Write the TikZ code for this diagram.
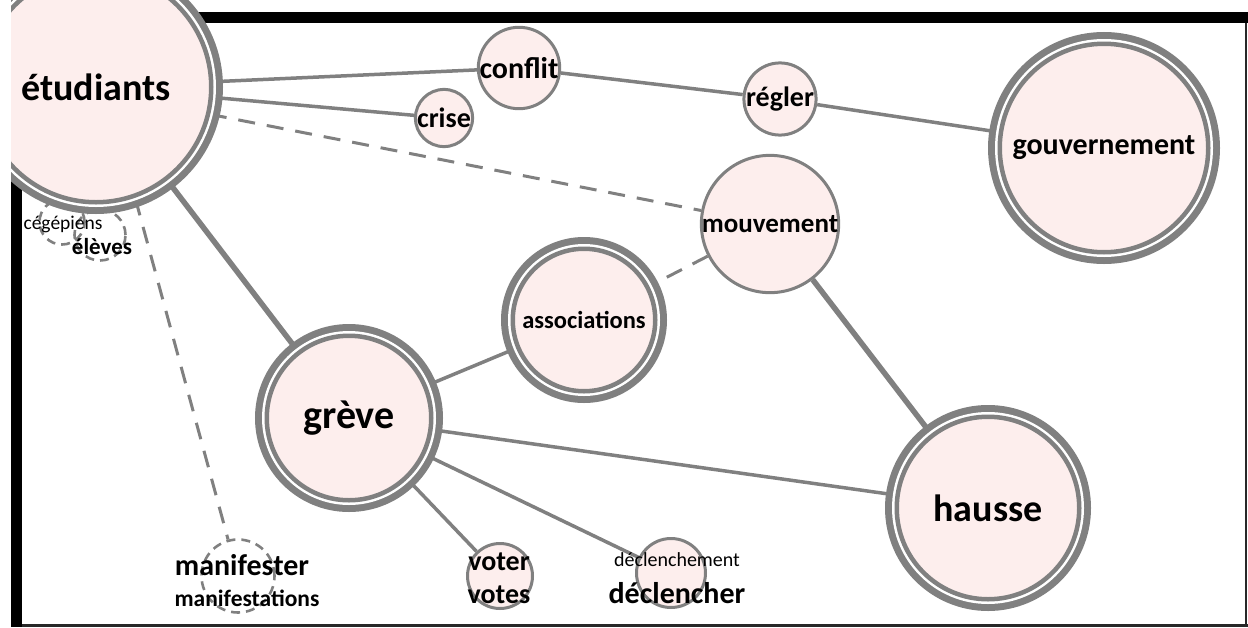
\documentclass[tikz,border=0pt]{standalone}
\usepackage{fontspec}
\setmainfont{Carlito}
\definecolor{ringgray}{RGB}{128,128,128}
\definecolor{nodefill}{RGB}{253,238,237}
\definecolor{framedark}{RGB}{40,40,40}
\newcommand{\fsz}[1]{\fontsize{#1pt}{#1pt}\selectfont}
\pgfdeclarelayer{links}
\pgfsetlayers{links,main}
\tikzset{
  % two concentric rings: thick outer ring, white gap, thinner inner ring
  tworing/.style={circle, inner sep=0pt, minimum size={2*(#1-11.75)},
    fill=nodefill, draw=ringgray, line width=4.5pt,
    preaction={draw=ringgray, line width=23.5pt},
    preaction={draw=white, line width=9.5pt}},
  onering/.style={circle, inner sep=0pt, minimum size={2*#1-3},
    fill=nodefill, draw=ringgray, line width=3pt},
  dashring/.style={circle, inner sep=0pt, minimum size={2*#1-3},
    draw=ringgray, line width=2.6pt, dash pattern=on 9pt off 6pt},
  word/.style={font=\bfseries\fsz{#1}},
  plainword/.style={font=\fsz{#1}},
  lbl/.style={inner sep=0pt},
  link/.style={draw=ringgray, line width=3.5pt},
  heavylink/.style={draw=ringgray, line width=5.5pt},
  dashlink/.style={draw=ringgray, line width=3pt, dash pattern=on 17pt off 12pt},
}
\begin{document}
\begin{tikzpicture}[x=1pt,y=-1pt]
\useasboundingbox (0,0) rectangle (1248,627);

% frame bars
\begin{pgfonlayer}{links}
\fill[black] (11,12) rectangle (1248,23);
\fill[black] (11,12) rectangle (22,627);
\fill[framedark] (22,623.5) rectangle (1248,627);
\fill[framedark] (1244.5,23) rectangle (1247,627);
\end{pgfonlayer}

% small dashed circles tucked under the big one
\node[dashring=24] (cegepiens) at (62,222) {};
\node[dashring=27] (eleves) at (100,235) {};

% nodes
\begin{scope}
\clip (11,-60) rectangle (1248,627);
\node[tworing=127, word=38] (etudiants) at (96,87) {étudiants};
\end{scope}
\node[tworing=116, word=30] (gouvernement) at (1104,148) {gouvernement};
\node[tworing=83, word=24.5] (associations) at (584,320) {associations};
\node[tworing=94, word=40] (greve) at (349,418) {grève};
\node[tworing=103, word=38] (hausse) at (988,508) {hausse};

\node[onering=36, word=30] (conflit) at (519,68) {conflit};
\node[onering=28.5, word=28] (crise) at (444,118) {crise};
\node[onering=30, word=28] (regler) at (780,99) {régler};
\node[onering=57, word=27] (mouvement) at (770,224) {mouvement};
\node[onering=34] (voter) at (500,576) {};
\node[onering=36] (declencher) at (671,573) {};
\node[dashring=38] (manifester) at (238,576) {};

% labels printed across the small circles
\node[lbl, word=28] (voterA) at (499,562) {voter};
\node[lbl, word=28] (voterB) at (499,595) {votes};
\node[lbl, plainword=20] (declA) at (677,560) {déclenchement};
\node[lbl, word=30] (declB) at (677,593) {déclencher};
\node[lbl, word=30] (maniA) at (242,565) {manifester};
\node[lbl, word=23.5] (maniB) at (247,598) {manifestations};
\node[lbl, plainword=19.5] (cegA) at (63,224) {cégépiens};
\node[lbl, word=23] (eleA) at (102,247) {élèves};

% connectors
\begin{pgfonlayer}{links}
\draw[link] (etudiants) -- (conflit);
\draw[link] (etudiants) -- (crise);
\draw[dashlink] ([yshift=-5pt]etudiants.center) -- (mouvement);
\draw[heavylink] (etudiants) -- (greve);
\draw[dashlink] ([xshift=9pt]etudiants.center) -- (manifester);
\draw[link] (conflit) -- (regler);
\draw[link] (regler) -- (gouvernement);
\draw[dashlink] (mouvement) -- (associations);
\draw[heavylink] (mouvement) -- (hausse);
\draw[link] (greve) -- (associations);
\draw[link] (greve) -- (hausse);
\draw[link] (greve) -- (voter);
\draw[link] (greve) -- (declencher);
\end{pgfonlayer}
\end{tikzpicture}
\end{document}
